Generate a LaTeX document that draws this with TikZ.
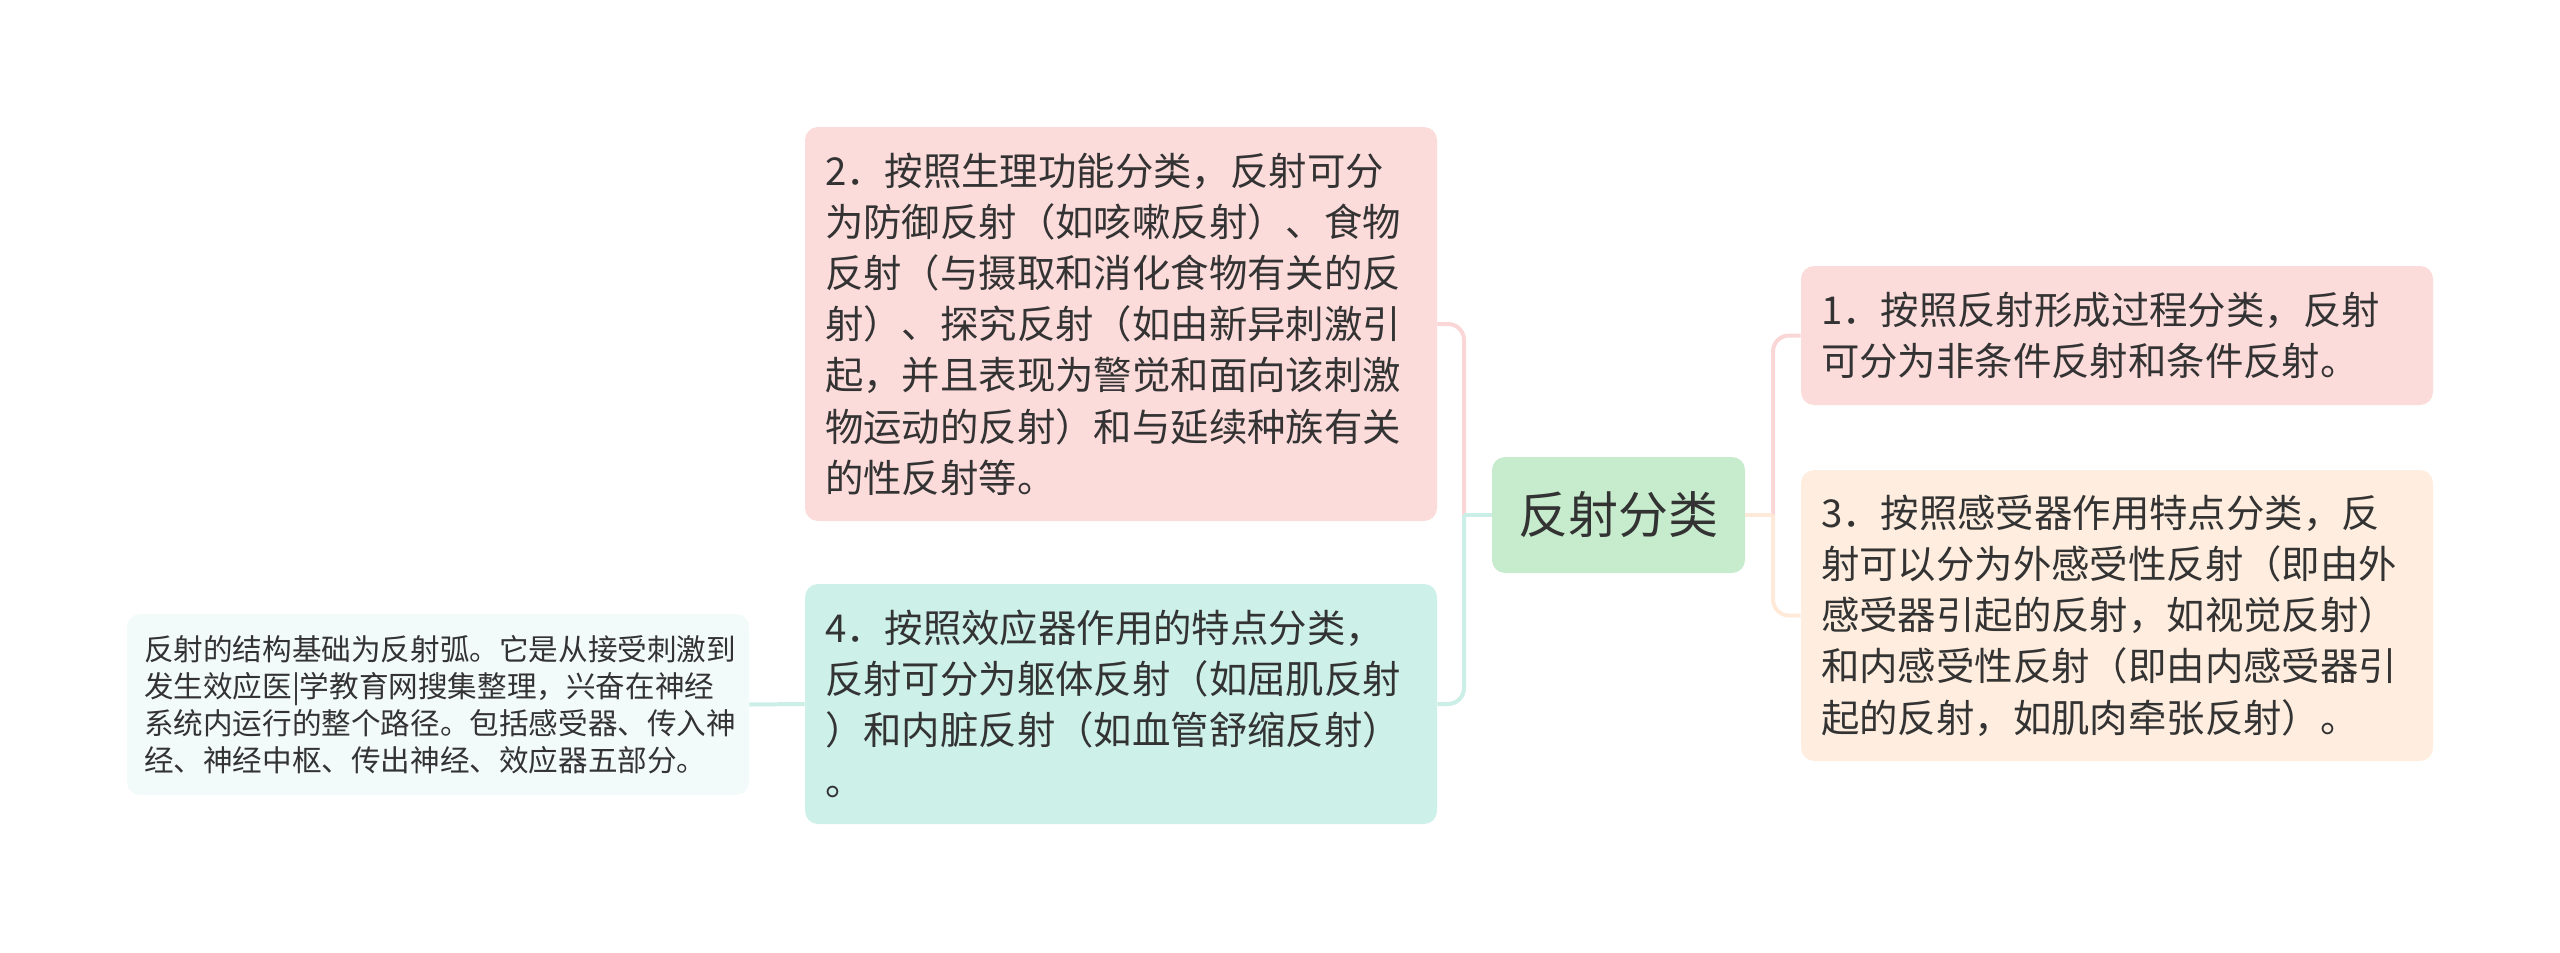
\documentclass[tikz,border=0pt]{standalone}
\usepackage{fontspec}
\setmainfont{Noto Sans CJK SC}
\definecolor{pinkbox}{RGB}{252,219,219}
\definecolor{greenbox}{RGB}{199,236,205}
\definecolor{peachbox}{RGB}{255,238,223}
\definecolor{tealbox}{RGB}{205,240,232}
\definecolor{notebox}{RGB}{243,250,250}
\definecolor{pinkline}{RGB}{250,214,214}
\definecolor{tealline}{RGB}{203,238,231}
\definecolor{peachline}{RGB}{255,234,218}
\definecolor{txt}{RGB}{51,51,51}

\begin{document}
\begin{tikzpicture}[x=0.5pt,y=-0.5pt,
  topic/.style={rounded corners=6.5pt,inner xsep=10pt,inner ysep=0pt,align=left,text=txt,
    font=\fontsize{19.2}{25.6}\selectfont,text width=296pt},
  link/.style={line width=2pt,rounded corners=8pt}]
\useasboundingbox (0,0) rectangle (2560,953);

\node[fill=greenbox,rounded corners=6.5pt,minimum width=126.5pt,minimum height=58pt,text=txt,
  font=\fontsize{25}{30}\selectfont] (root) at (1618.5,515) {反射分类};

\node[topic,fill=pinkbox,minimum height=197pt] (phys) at (1121,324) {2．按照生理功能分类，反射可分\\为防御反射（如咳嗽反射）、食物\\反射（与摄取和消化食物有关的反\\射）、探究反射（如由新异刺激引\\起，并且表现为警觉和面向该刺激\\物运动的反射）和与延续种族有关\\的性反射等。};
\node[topic,fill=tealbox,minimum height=120pt] (effect) at (1121,704) {4．按照效应器作用的特点分类，\\反射可分为躯体反射（如屈肌反射\\）和内脏反射（如血管舒缩反射）\\。};
\node[topic,fill=pinkbox,minimum height=69.5pt] (form) at (2117,335.5) {1．按照反射形成过程分类，反射\\可分为非条件反射和条件反射。};
\node[topic,fill=peachbox,minimum height=145.5pt] (recep) at (2117,615.5) {3．按照感受器作用特点分类，反\\射可以分为外感受性反射（即由外\\感受器引起的反射，如视觉反射）\\和内感受性反射（即由内感受器引\\起的反射，如肌肉牵张反射）。};
\node[topic,fill=notebox,inner xsep=8.5pt,text width=294pt,minimum height=90.5pt,
  font=\fontsize{14.8}{18.5}\selectfont] (note) at (438,704.5) {反射的结构基础为反射弧。它是从接受刺激到\\发生效应医|学教育网搜集整理，兴奋在神经\\系统内运行的整个路径。包括感受器、传入神\\经、神经中枢、传出神经、效应器五部分。};

\coordinate (lj) at (1464,515);
\coordinate (rj) at (1773,515);
\draw[link,pinkline] (lj) |- (phys.east);
\draw[link,tealline] (lj) |- (effect.east);
\draw[link,tealline] (root.west) -- (lj);
\draw[link,pinkline] (rj) |- (form.west);
\draw[link,peachline] (rj) |- (recep.west);
\draw[link,peachline] (root.east) -- (rj);
\draw[link,tealline] (note.east) -- (effect.west);
\end{tikzpicture}
\end{document}
